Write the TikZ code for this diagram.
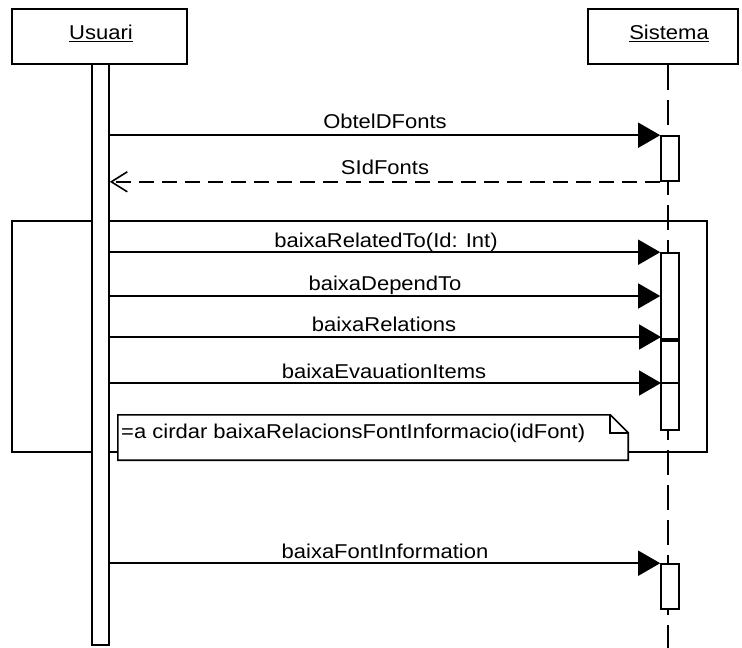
\documentclass[tikz,border=0pt]{standalone}
\usepackage{fontspec}
\newfontfamily\diagfont{Liberation Sans}[FakeStretch=1.1]
\usetikzlibrary{arrows.meta}
\begin{document}
\begin{tikzpicture}[x=1pt,y=-1pt,
  every node/.style={font=\diagfont\fontsize{20}{24}\selectfont},
  thin line/.style={line width=1.6pt},
  partbox/.style={draw, line width=2.8pt, fill=white, minimum height=55pt, inner sep=0pt},
  actbox/.style={draw, thin line, fill=white, inner sep=0pt, minimum width=18pt},
  msg/.style={thin line, -{Triangle[length=22pt,width=25pt]}},
  reply/.style={thin line, dash pattern=on 15pt off 8pt, -{Straight Barb[length=16pt,width=20pt]}},
  lifeline/.style={thin line, dash pattern=on 25pt off 10pt},
  msglabel/.style={anchor=base, inner sep=0pt},
]
\useasboundingbox (0,0) rectangle (742,648);

% combined fragment frame
\node[draw, thin line, minimum width=695pt, minimum height=231pt, inner sep=0pt] (frag) at (359.5,336.5) {};

% participants
\node[partbox, minimum width=175pt] (usr) at (99.5,36.5) {};
\node[inner sep=0pt] (usrname) at (101,33) {\underline{Usuari}};
\node[partbox, minimum width=150pt] (sys) at (663,36.5) {};
\node[inner sep=0pt] (sysname) at (669,33) {\underline{Sistema}};

% lifelines
\coordinate (sysend) at (668,648);
\draw[lifeline] (sys.south -| sysend) -- (sysend);
\node[actbox, minimum width=17pt, minimum height=581pt] (ubar) at (100.5,354.5) {};

% activations on Sistema
\node[actbox, minimum height=45pt] (act1) at (670,158.5) {};
\node[actbox, minimum height=86pt] (act2) at (670,296) {};
\node[actbox, minimum height=89pt] (act3) at (670,385.5) {};
\node[actbox, minimum height=45pt] (act4) at (670,586.5) {};
\coordinate (t4) at (661,337);
\coordinate (t5) at (661,383);
\draw[thin line] (act3.west |- t5) -- (act3.east |- t5);

% note with folded corner
\node[minimum width=510pt, minimum height=45pt, inner sep=0pt] (note) at (373,437.5) {};
\draw[thin line, fill=white]
  (note.north west) -- ([xshift=-18pt]note.north east) -- ([yshift=-18pt]note.north east)
  -- (note.south east) -- (note.south west) -- cycle;
\draw[thin line]
  ([xshift=-18pt]note.north east) -- ([xshift=-18pt,yshift=-18pt]note.north east)
  -- ([yshift=-18pt]note.north east);
\node[anchor=west, inner sep=0pt] (notetext) at (121,433) {=a cirdar baixaRelacionsFontInformacio(idFont)};

% messages
\draw[msg] (ubar.east |- act1.north west) -- (act1.north west);
\node[msglabel] (l1) at (385,128) {ObtelDFonts};
\draw[reply] (act1.south west) -- (ubar.east |- act1.south west);
\node[msglabel] (l2) at (385,174) {SIdFonts};

\draw[msg] (ubar.east |- act2.north west) -- (act2.north west);
\node[msglabel] (l3) at (386,247) {baixaRelatedTo(Id: Int)};
\draw[msg] (ubar.east |- act2.west) -- (act2.west);
\node[msglabel] (l4) at (385,290) {baixaDependTo};
\draw[msg] (ubar.east |- t4) -- (t4);
\node[msglabel] (l5) at (384,331) {baixaRelations};
\draw[msg] (ubar.east |- t5) -- (t5);
\node[msglabel] (l6) at (384,378) {baixaEvauationItems};

\draw[msg] (ubar.east |- act4.north west) -- (act4.north west);
\node[msglabel] (l7) at (385,558) {baixaFontInformation};
\end{tikzpicture}
\end{document}
